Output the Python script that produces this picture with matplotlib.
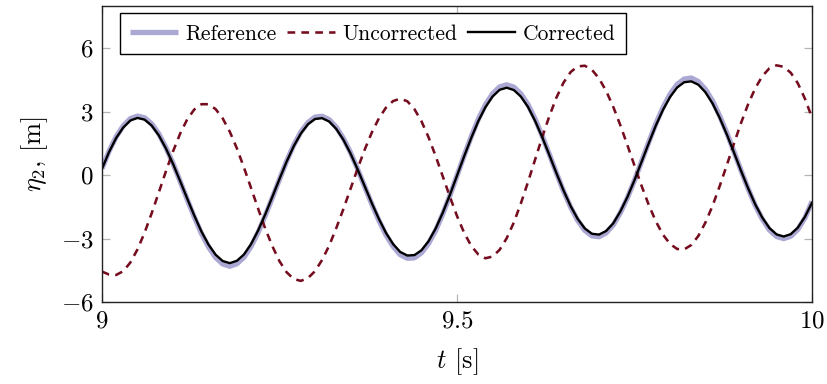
import numpy as np
import matplotlib
matplotlib.use("Agg")
import matplotlib.pyplot as plt

plt.rcParams['font.family'] = 'serif'
plt.rcParams['font.serif'] = ['cmr10', 'DejaVu Serif']
plt.rcParams['mathtext.fontset'] = 'cm'
plt.rcParams['axes.unicode_minus'] = False

# time axis, 0.01 s samples between 9 and 10 s
t = np.round(np.arange(9.00, 10.001, 0.01), 2)

reference = [
    0.31, 1.14, 1.82, 2.34, 2.68, 2.80, 2.72, 2.43, 1.96, 1.31,
    0.56, -0.28, -1.14, -1.98, -2.75, -3.39, -3.89, -4.20, -4.31, -4.19,
    -3.88, -3.37, -2.70, -1.91, -1.06, -0.19, 0.66, 1.42, 2.04, 2.49,
    2.75, 2.79, 2.63, 2.27, 1.74, 1.07, 0.29, -0.54, -1.37, -2.14,
    -2.83, -3.37, -3.76, -3.93, -3.91, -3.67, -3.23, -2.61, -1.83, -0.96,
    -0.02, 0.92, 1.82, 2.65, 3.33, 3.85, 4.18, 4.28, 4.17, 3.85,
    3.34, 2.66, 1.86, 0.99, 0.10, -0.75, -1.51, -2.14, -2.61, -2.87,
    -2.91, -2.73, -2.36, -1.78, -1.07, -0.24, 0.66, 1.56, 2.43, 3.20,
    3.83, 4.30, 4.55, 4.60, 4.43, 4.06, 3.51, 2.80, 2.00, 1.12,
    0.22, -0.64, -1.43, -2.08, -2.59, -2.90, -3.00, -2.89, -2.57, -2.02,
    -1.24,
]

uncorrected = [
    -4.56, -4.70, -4.72, -4.54, -4.13, -3.51, -2.72, -1.80, -0.82, 0.18,
    1.12, 1.96, 2.64, 3.11, 3.36, 3.36, 3.13, 2.69, 2.06, 1.27,
    0.36, -0.61, -1.59, -2.53, -3.36, -4.07, -4.59, -4.91, -5.00, -4.87,
    -4.54, -4.01, -3.33, -2.50, -1.60, -0.65, 0.31, 1.21, 2.02, 2.69,
    3.20, 3.51, 3.62, 3.50, 3.13, 2.55, 1.79, 0.90, -0.06, -1.02,
    -1.93, -2.72, -3.34, -3.75, -3.93, -3.85, -3.53, -2.98, -2.24, -1.33,
    -0.32, 0.74, 1.80, 2.79, 3.67, 4.38, 4.88, 5.15, 5.18, 4.99,
    4.58, 3.99, 3.24, 2.37, 1.42, 0.45, -0.51, -1.40, -2.18, -2.81,
    -3.25, -3.49, -3.51, -3.30, -2.87, -2.23, -1.44, -0.51, 0.48, 1.49,
    2.47, 3.36, 4.11, 4.69, 5.06, 5.20, 5.13, 4.85, 4.35, 3.62,
    2.72,
]

corrected = [
    0.30, 1.10, 1.76, 2.26, 2.59, 2.71, 2.63, 2.35, 1.89, 1.27,
    0.54, -0.27, -1.10, -1.91, -2.66, -3.28, -3.76, -4.06, -4.16, -4.05,
    -3.75, -3.26, -2.61, -1.85, -1.02, -0.18, 0.64, 1.37, 1.97, 2.41,
    2.66, 2.70, 2.54, 2.19, 1.68, 1.03, 0.28, -0.52, -1.32, -2.07,
    -2.73, -3.26, -3.63, -3.80, -3.78, -3.55, -3.12, -2.52, -1.77, -0.93,
    -0.02, 0.89, 1.76, 2.56, 3.22, 3.72, 4.04, 4.14, 4.03, 3.72,
    3.23, 2.57, 1.80, 0.96, 0.10, -0.72, -1.46, -2.07, -2.52, -2.77,
    -2.81, -2.64, -2.28, -1.72, -1.03, -0.23, 0.64, 1.51, 2.35, 3.09,
    3.70, 4.15, 4.40, 4.44, 4.28, 3.92, 3.39, 2.71, 1.93, 1.08,
    0.21, -0.62, -1.38, -2.01, -2.50, -2.80, -2.90, -2.79, -2.48, -1.97,
    -1.30,
]

xticks = [9, 9.5, 10]
xticklabels = ['$9$', '$9.5$', '$10$']
yticks = [-6, -3, 0, 3, 6]
yticklabels = ['$-6$', '$-3$', '$0$', '$3$', '$6$']

fig = plt.figure(figsize=(8.27, 3.84), dpi=100)
ax = fig.add_axes([0.1233, 0.2135, 0.8586, 0.7705])

ax.plot(t, reference, color='#aca8d4', lw=3.8, label='Reference',
        solid_capstyle='butt', solid_joinstyle='round')
ax.plot(t, uncorrected, color='#750d1f', lw=1.85, ls=(0, (3.0, 2.4)),
        label='Uncorrected', dash_joinstyle='round')
ax.plot(t, corrected, color='black', lw=1.7, label='Corrected',
        solid_joinstyle='round')

ax.set_xlim(9, 10)
ax.set_ylim(-6, 8)
ax.set_xticks(xticks, labels=xticklabels, fontsize=18)
ax.set_yticks(yticks, labels=yticklabels, fontsize=18)
ax.tick_params(direction='in', length=6, width=0.9, color='#b5b5b5',
               top=True, right=True, pad=6)

for spine in ['right', 'top', 'left', 'bottom']:
    ax.spines[spine].set_color('#222222')
    ax.spines[spine].set_linewidth(1.0)

ax.set_xlabel('$t$ [s]', fontsize=19, labelpad=10)
ax.set_ylabel(r'$\eta_2$, [m]', fontsize=19, labelpad=8)

leg = ax.legend(loc='upper left', bbox_to_anchor=(0.025, 0.976), ncol=3,
                fontsize=15.5, frameon=True, fancybox=False, framealpha=1,
                edgecolor='black', borderaxespad=0, handlelength=2.2,
                columnspacing=0.5, handletextpad=0.35, borderpad=0.5)
leg.get_frame().set_linewidth(1.0)

fig.savefig('out.png', dpi=100)
